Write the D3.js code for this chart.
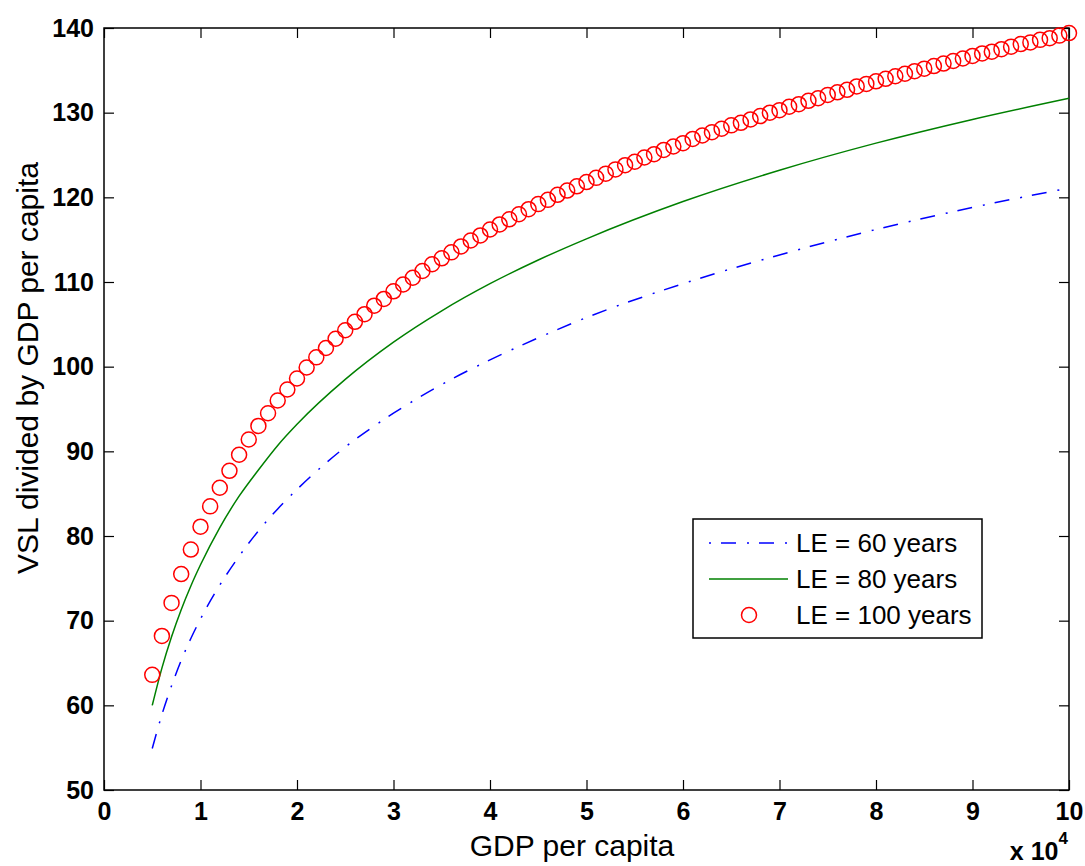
<!DOCTYPE html>
<html>
<head>
<meta charset="utf-8">
<script src="https://cdn.jsdelivr.net/npm/d3@7"></script>
<style>
  body { margin: 0; background: #fff; }
  svg { font-family: "Liberation Sans", Arial, sans-serif; }
</style>
</head>
<body>
<svg id="chart" width="1085" height="866"></svg>
<script>
// --- data (GDP per capita in units of 10^4) ---
const xTicks = [0, 1, 2, 3, 4, 5, 6, 7, 8, 9, 10];
const yTicks = [50, 60, 70, 80, 90, 100, 110, 120, 130, 140];

const lineX = [0.5, 0.6, 0.7, 0.8, 0.9, 1.0, 1.2, 1.4, 1.6, 1.8, 2.0, 2.5, 3, 3.5, 4, 4.5, 5, 6, 7, 8, 9, 10];
const le60 = [54.9, 58.9, 62.3, 65.3, 67.9, 70.2, 74.2, 77.6, 80.6, 83.2, 85.5, 90.5, 94.5, 97.9, 100.8, 103.4, 105.8, 109.8, 113.2, 116.2, 118.8, 121.1];
const le80 = [60.0, 64.4, 68.1, 71.3, 74.1, 76.6, 81.0, 84.7, 87.8, 90.7, 93.2, 98.5, 102.9, 106.6, 109.8, 112.6, 115.1, 119.5, 123.2, 126.4, 129.2, 131.7];

// circles every 1000 from 5000 to 100000
const circleX = [0.5, 0.6, 0.7, 0.8, 0.9, 1.0, 1.1, 1.2, 1.3, 1.4, 1.5, 1.6, 1.7, 1.8, 1.9,
  2.0, 2.1, 2.2, 2.3, 2.4, 2.5, 2.6, 2.7, 2.8, 2.9, 3.0, 3.1, 3.2, 3.3, 3.4, 3.5, 3.6, 3.7, 3.8, 3.9,
  4.0, 4.1, 4.2, 4.3, 4.4, 4.5, 4.6, 4.7, 4.8, 4.9, 5.0, 5.1, 5.2, 5.3, 5.4, 5.5, 5.6, 5.7, 5.8, 5.9,
  6.0, 6.1, 6.2, 6.3, 6.4, 6.5, 6.6, 6.7, 6.8, 6.9, 7.0, 7.1, 7.2, 7.3, 7.4, 7.5, 7.6, 7.7, 7.8, 7.9,
  8.0, 8.1, 8.2, 8.3, 8.4, 8.5, 8.6, 8.7, 8.8, 8.9, 9.0, 9.1, 9.2, 9.3, 9.4, 9.5, 9.6, 9.7, 9.8, 9.9, 10.0];
const le100 = [63.6, 68.2, 72.1, 75.5, 78.4, 81.1, 83.5, 85.7, 87.7, 89.6, 91.4, 93.0, 94.5, 96.0, 97.3,
  98.6, 99.9, 101.1, 102.2, 103.3, 104.3, 105.3, 106.2, 107.2, 108.0, 108.9, 109.7, 110.5, 111.3, 112.1, 112.8, 113.5, 114.2, 114.9, 115.5,
  116.2, 116.8, 117.4, 118.0, 118.6, 119.2, 119.7, 120.3, 120.8, 121.3, 121.8, 122.3, 122.8, 123.3, 123.8, 124.2, 124.7, 125.1, 125.6, 126.0,
  126.4, 126.9, 127.3, 127.7, 128.1, 128.5, 128.8, 129.2, 129.6, 130.0, 130.3, 130.7, 131.0, 131.4, 131.7, 132.1, 132.4, 132.7, 133.1, 133.4,
  133.7, 134.0, 134.3, 134.6, 134.9, 135.2, 135.5, 135.8, 136.1, 136.4, 136.7, 137.0, 137.2, 137.5, 137.8, 138.1, 138.3, 138.6, 138.8, 139.1, 139.4];

const legendLabels = ["LE = 60 years", "LE = 80 years", "LE = 100 years"];

// --- layout ---
const svg = d3.select("#chart");
const plot = { left: 104, right: 1069, top: 28, bottom: 790 };

const x = d3.scaleLinear().domain([0, 10]).range([plot.left, plot.right]);
const y = d3.scaleLinear().domain([50, 140]).range([plot.bottom, plot.top]);

// axes (inward ticks, MATLAB style)
svg.append("g")
  .attr("transform", `translate(0,${plot.bottom})`)
  .call(d3.axisBottom(x).tickValues(xTicks).tickSize(-10).tickPadding(12).tickFormat(d3.format("d")));
svg.append("g")
  .attr("transform", `translate(${plot.left},0)`)
  .call(d3.axisLeft(y).tickValues(yTicks).tickSize(-10).tickPadding(10).tickFormat(d3.format("d")));
svg.append("g")
  .attr("transform", `translate(0,${plot.top})`)
  .call(d3.axisTop(x).tickValues(xTicks).tickSize(-10).tickFormat(""));
svg.append("g")
  .attr("transform", `translate(${plot.right},0)`)
  .call(d3.axisRight(y).tickValues(yTicks).tickSize(-10).tickFormat(""));

svg.selectAll(".domain").remove();
svg.selectAll(".tick line").attr("stroke", "#000").attr("stroke-width", 1.2);
svg.selectAll(".tick text")
  .attr("fill", "#000")
  .attr("font-size", 25)
  .attr("font-weight", "bold")
  .attr("font-family", "Liberation Sans, Arial, sans-serif");

// box
svg.append("rect")
  .attr("x", plot.left).attr("y", plot.top)
  .attr("width", plot.right - plot.left).attr("height", plot.bottom - plot.top)
  .attr("fill", "none").attr("stroke", "#000").attr("stroke-width", 1.5);

// lines
const line = d3.line().x((d) => x(d[0])).y((d) => y(d[1])).curve(d3.curveMonotoneX);

svg.append("path")
  .datum(lineX.map((v, i) => [v, le60[i]]))
  .attr("d", line)
  .attr("fill", "none").attr("stroke", "#0000ff").attr("stroke-width", 1.5)
  .attr("stroke-dasharray", "15,11,2,10");

svg.append("path")
  .datum(lineX.map((v, i) => [v, le80[i]]))
  .attr("d", line)
  .attr("fill", "none").attr("stroke", "#008000").attr("stroke-width", 1.5);

svg.append("g").selectAll("circle")
  .data(circleX.map((v, i) => [v, le100[i]]))
  .join("circle")
  .attr("cx", (d) => x(d[0]))
  .attr("cy", (d) => y(d[1]))
  .attr("r", 7.5)
  .attr("fill", "none").attr("stroke", "#ff0000").attr("stroke-width", 1.5);

// axis labels
svg.append("text")
  .attr("x", 572).attr("y", 856)
  .attr("text-anchor", "middle")
  .attr("font-size", 30)
  .text("GDP per capita");

svg.append("text")
  .attr("transform", "translate(38,368) rotate(-90)")
  .attr("text-anchor", "middle")
  .attr("font-size", 30)
  .text("VSL divided by GDP per capita");

// exponent label
const expo = svg.append("text")
  .attr("x", 1068).attr("y", 860)
  .attr("text-anchor", "end")
  .attr("font-size", 25).attr("font-weight", "bold");
expo.append("tspan").text("x 10");
expo.append("tspan").attr("dy", -16).attr("font-size", 17).text("4");

// legend
const legend = svg.append("g").attr("transform", "translate(693,519)");
legend.append("rect")
  .attr("width", 289).attr("height", 119)
  .attr("fill", "#fff").attr("stroke", "#000").attr("stroke-width", 1.5);

const rowY = [24, 60, 96];
legend.append("line")
  .attr("x1", 16).attr("x2", 95).attr("y1", rowY[0]).attr("y2", rowY[0])
  .attr("stroke", "#0000ff").attr("stroke-width", 1.5)
  .attr("stroke-dasharray", "2,10,15,11");
legend.append("line")
  .attr("x1", 16).attr("x2", 95).attr("y1", rowY[1]).attr("y2", rowY[1])
  .attr("stroke", "#008000").attr("stroke-width", 1.5);
legend.append("circle")
  .attr("cx", 56).attr("cy", rowY[2]).attr("r", 7.5)
  .attr("fill", "none").attr("stroke", "#ff0000").attr("stroke-width", 1.5);

legend.selectAll("text.lbl")
  .data(legendLabels)
  .join("text")
  .attr("class", "lbl")
  .attr("x", 103)
  .attr("y", (d, i) => rowY[i] + 9)
  .attr("font-size", 26)
  .text((d) => d);
</script>
</body>
</html>
